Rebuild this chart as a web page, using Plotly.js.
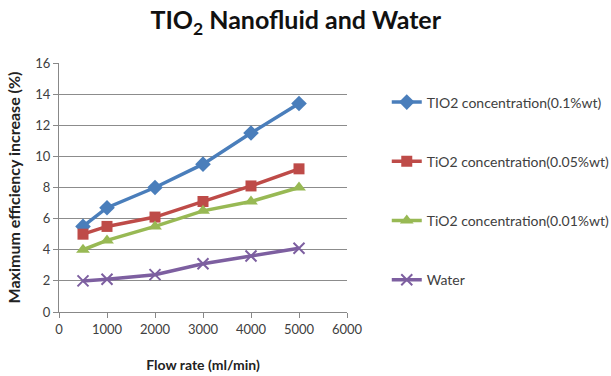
<!DOCTYPE html>
<html>
<head>
<meta charset="utf-8">
<script src="https://cdn.plot.ly/plotly-3.0.1.min.js"></script>
<style>
  html, body { margin: 0; padding: 0; background: #fff; }
  #chart { width: 611px; height: 376px; }
</style>
</head>
<body>
<div id="chart"></div>
<script>
// Flow rates (ml/min)
const flowRate = [500, 1000, 2000, 3000, 4000, 5000];

// Maximum efficiency increase (%) per fluid
const tio2_01 = [5.5, 6.7, 8.0, 9.5, 11.5, 13.4];
const tio2_005 = [5.0, 5.5, 6.1, 7.1, 8.1, 9.2];
const tio2_001 = [4.0, 4.6, 5.5, 6.5, 7.1, 8.0];
const water = [2.0, 2.1, 2.4, 3.1, 3.6, 4.1];

const seriesNames = [
  'TIO2 concentration(0.1%wt)',
  'TiO2 concentration(0.05%wt)',
  'TiO2 concentration(0.01%wt)',
  'Water'
];

const fontFam = 'Lato, "Open Sans", "DejaVu Sans", sans-serif';

function series(y, name, color, symbol, size, group) {
  return {
    x: flowRate, y: y, name: name, type: 'scatter', mode: 'lines+markers',
    legendgroup: group,
    line: { color: color, width: 3.5 },
    marker: { symbol: symbol, size: size, color: color,
              line: { color: color, width: symbol.indexOf('x') === 0 ? 2 : 0 } }
  };
}

const data = [
  series(tio2_01, seriesNames[0], '#4a7ebb', 'diamond', 12, 'a'),
  series(tio2_005, seriesNames[1], '#be4b48', 'square', 11, 'b'),
  series(tio2_001, seriesNames[2], '#98b954', 'triangle-up', 12, 'c'),
  series(water, seriesNames[3], '#7d5fa0', 'x-thin-open', 11, 'd')
];

const layout = {
  width: 611, height: 376,
  margin: { l: 59, r: 264, t: 63, b: 64 },
  paper_bgcolor: '#ffffff', plot_bgcolor: '#ffffff',
  font: { family: fontFam, color: '#404040', size: 12 },
  title: {
    text: '<b>TIO<sub>2</sub> Nanofluid and Water</b>',
    font: { family: fontFam, size: 25, color: '#111' },
    x: 0.484, xanchor: 'center', y: 0.945, yanchor: 'middle'
  },
  xaxis: {
    range: [0, 6000], dtick: 1000, tick0: 0,
    showgrid: false, zeroline: false,
    showline: true, linecolor: '#888', linewidth: 1,
    ticks: 'outside', ticklen: 5, tickcolor: '#888',
    tickfont: { size: 13, color: '#404040' },
    title: { text: '<b>Flow rate (ml/min)</b>', font: { size: 14, color: '#222' }, standoff: 24 }
  },
  yaxis: {
    range: [0, 16], dtick: 2,
    showgrid: true, gridcolor: '#8c8c8c', gridwidth: 1,
    zeroline: false,
    showline: true, linecolor: '#888', linewidth: 1,
    ticks: 'outside', ticklen: 5, tickcolor: '#888',
    tickfont: { size: 13, color: '#404040' },
    title: { text: '<b>Maximum efficiency increase (%)</b>', font: { size: 16, color: '#222' }, standoff: 10 }
  },
  legend: {
    x: 0.633, xanchor: 'left', y: 0.77, yanchor: 'top',
    xref: 'container', yref: 'container',
    maxheight: 320,
    font: { size: 14, color: '#404040' },
    tracegroupgap: 38,
    bgcolor: 'rgba(0,0,0,0)'
  },
  showlegend: true
};

Plotly.newPlot('chart', data, layout, { displayModeBar: false, staticPlot: true });
</script>
</body>
</html>
